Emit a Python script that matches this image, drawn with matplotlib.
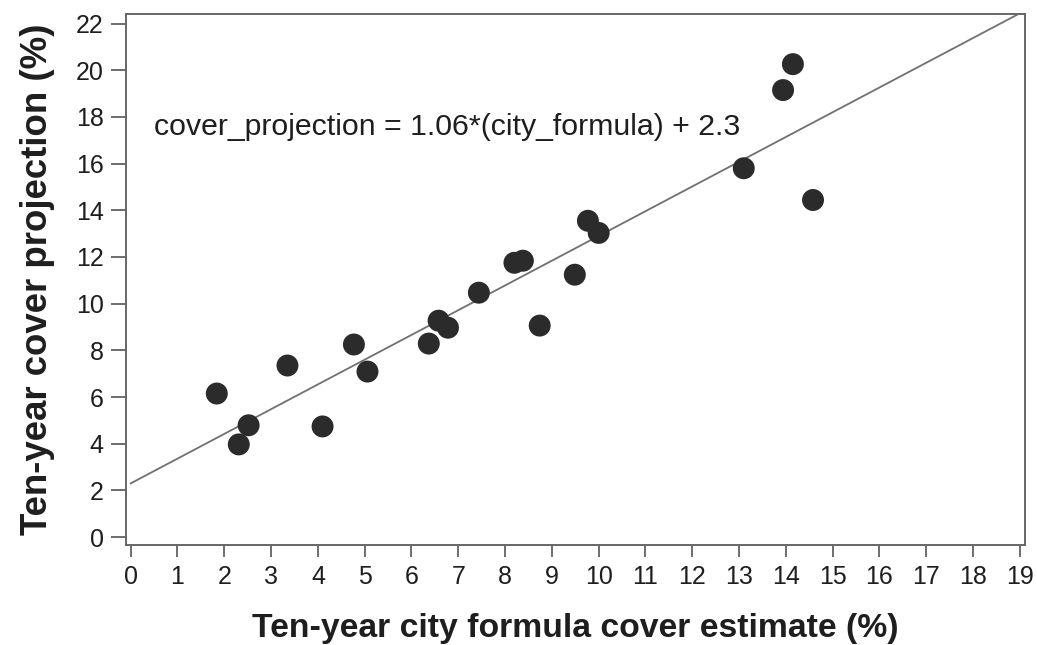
import matplotlib
matplotlib.use("Agg")
import matplotlib.pyplot as plt
import numpy as np

plt.rcParams['font.family'] = ['Liberation Sans', 'DejaVu Sans']

# city formula estimate (%) vs cover projection (%)
city_formula = [1.84, 2.31, 2.52, 3.35, 4.10, 4.77, 5.06, 6.37, 6.58, 6.78,
                7.44, 8.20, 8.38, 8.74, 9.49, 9.77, 10.00, 13.10, 13.94,
                14.15, 14.58]
cover_projection = [6.15, 3.97, 4.79, 7.35, 4.74, 8.25, 7.09, 8.29, 9.27, 8.97,
                    10.47, 11.75, 11.84, 9.06, 11.24, 13.55, 13.03, 15.80,
                    19.15, 20.26, 14.44]

slope = 1.06
intercept = 2.3
equation = "cover_projection = 1.06*(city_formula) + 2.3"

x_ticks = list(range(0, 20))
y_ticks = list(range(0, 23, 2))


def main():
    fig = plt.figure(figsize=(10.37, 6.45), dpi=100)
    ax = fig.add_axes([0.1215, 0.155, 0.8665, 0.823])

    x_fit = np.array([0, 19.1])
    ax.plot(x_fit, slope * x_fit + intercept, color='#707070', linewidth=1.3,
            zorder=1)
    ax.scatter(city_formula, cover_projection, s=250, color='#2b2b2b',
               edgecolors='none', zorder=2)

    ax.text(0.5, 17.55, equation, fontsize=21.8, color='#1e1e1e',
            va='center', ha='left')

    ax.set_xlim(-0.1, 19.1)
    ax.set_ylim(-0.34, 22.4)
    ax.set_xticks(x_ticks)
    ax.set_yticks(y_ticks)
    ax.tick_params(axis='both', labelsize=18, width=1.2,
                   color='#555555', labelcolor='#1e1e1e')
    ax.tick_params(axis='x', length=8.5, pad=6)
    ax.tick_params(axis='y', length=11, pad=5)

    for spine in ax.spines.values():
        spine.set_color('#666666')
        spine.set_linewidth(1.4)

    ax.set_xlabel('Ten-year city formula cover estimate (%)', fontsize=24.3,
                  fontweight='bold', color='#1e1e1e', labelpad=17)
    ax.set_ylabel('Ten-year cover projection (%)', fontsize=26.4,
                  fontweight='bold', color='#1e1e1e', labelpad=15)

    fig.savefig('out.png', dpi=100)


if __name__ == '__main__':
    main()
